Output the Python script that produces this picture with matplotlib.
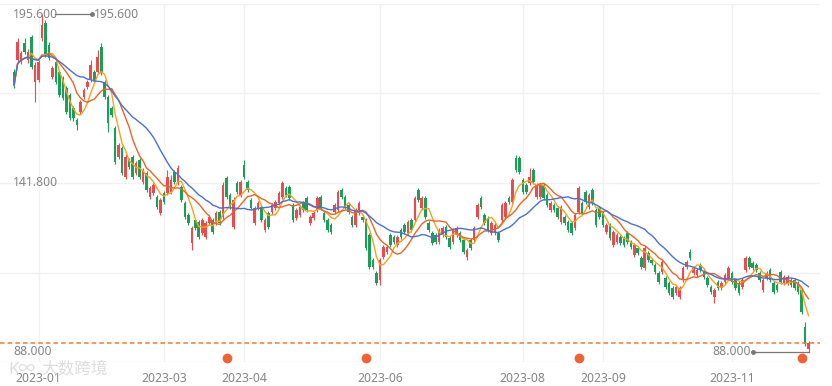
import matplotlib
matplotlib.use("Agg")
import matplotlib.pyplot as plt
import matplotlib.transforms as mtransforms
import numpy as np
import pandas as pd

plt.rcParams["font.family"] = ["Noto Sans", "Noto Sans CJK SC", "DejaVu Sans"]

# trading calendar (weekdays minus exchange holidays)
start_date = "2022-12-22"
end_date = "2023-12-01"
holidays = ["2023-01-02", "2023-01-23", "2023-01-24", "2023-01-25", "2023-01-26",
            "2023-01-27", "2023-04-05", "2023-05-01", "2023-05-02", "2023-05-03",
            "2023-06-22", "2023-06-23", "2023-09-29", "2023-10-02", "2023-10-03",
            "2023-10-04", "2023-10-05", "2023-10-06"]

opens = [177.1, 180.9, 180.3, 186.3, 180.9, 188.2, 173.9, 174.6, 187.9, 192.7,
         185.7, 175.5, 180.3, 177.1, 175.2, 172.0, 169.8, 165.7, 161.8, 164.4,
         169.2, 172.3, 174.6, 177.1, 177.1, 185.1, 173.9, 169.2, 165.7, 159.3,
         150.1, 152.9, 143.7, 149.1, 150.1, 145.0, 149.1, 142.1, 145.0, 137.4,
         138.6, 137.4, 132.3, 138.6, 138.6, 138.9, 145.3, 141.8, 140.5, 135.4,
         131.6, 122.7, 130.0, 129.4, 125.9, 124.6, 129.1, 130.0, 129.1, 132.6,
         131.0, 143.4, 138.0, 127.8, 141.8, 138.0, 147.5, 142.1, 136.4, 129.1,
         133.9, 134.2, 126.9, 132.3, 132.6, 133.9, 135.4, 137.4, 140.2, 140.5,
         134.8, 130.7, 131.6, 135.4, 137.0, 129.1, 130.7, 133.2, 137.4, 132.3,
         130.0, 128.4, 132.6, 133.2, 139.6, 137.4, 134.8, 131.0, 128.4, 132.3,
         131.0, 130.0, 125.3, 117.3, 113.2, 111.0, 118.3, 119.9, 125.3, 124.6,
         122.1, 126.9, 128.4, 125.9, 130.0, 130.0, 139.6, 133.9, 137.0, 129.1,
         125.9, 125.3, 123.0, 125.3, 127.8, 124.3, 123.0, 125.3, 125.9, 123.7,
         118.3, 123.7, 123.7, 131.0, 137.0, 131.6, 130.7, 125.9, 125.9, 125.9,
         130.0, 131.0, 137.0, 135.8, 149.8, 149.8, 142.8, 141.2, 141.8, 145.9,
         137.4, 137.4, 141.2, 138.0, 133.2, 134.8, 133.9, 129.4, 131.0, 129.4,
         129.1, 127.5, 132.6, 135.4, 138.9, 134.2, 139.6, 133.2, 133.9, 132.3,
         126.2, 128.4, 122.1, 123.0, 124.6, 124.3, 125.9, 123.0, 118.9, 121.1,
         118.0, 114.8, 119.5, 117.3, 115.7, 113.2, 113.5, 111.6, 110.0, 108.4,
         106.8, 105.6, 111.0, 115.1, 119.9, 113.2, 112.6, 115.7, 113.5, 111.6,
         108.7, 105.6, 110.3, 108.4, 110.3, 111.6, 113.2, 111.0, 110.0, 108.7,
         114.1, 118.0, 116.4, 115.7, 113.2, 107.8, 111.6, 114.1, 110.0, 109.4,
         113.5, 110.0, 110.0, 111.0, 111.0, 110.0, 107.8, 96.0, 88.9]

closes = [173.0, 186.6, 183.1, 183.5, 183.5, 178.7, 179.3, 180.3, 192.1, 182.5,
          181.6, 178.4, 173.9, 169.8, 168.8, 164.4, 162.5, 162.5, 160.3, 167.6,
          171.4, 173.9, 179.3, 174.6, 181.9, 176.8, 169.2, 160.9, 163.4, 148.5,
          153.9, 145.0, 150.1, 146.9, 143.7, 148.2, 143.7, 145.9, 139.6, 140.2,
          141.2, 134.2, 136.4, 135.8, 143.7, 142.8, 142.1, 146.6, 136.4, 131.0,
          129.1, 127.5, 127.5, 124.6, 130.0, 129.1, 131.0, 126.2, 132.3, 129.1,
          141.2, 137.4, 134.2, 136.4, 138.9, 142.1, 143.7, 139.6, 133.9, 133.9,
          135.4, 130.0, 130.0, 127.8, 134.8, 135.8, 138.6, 141.8, 138.0, 137.0,
          130.0, 133.2, 134.2, 133.2, 133.2, 131.0, 132.3, 137.0, 133.9, 130.0,
          126.9, 126.2, 134.8, 138.9, 137.4, 134.2, 132.6, 128.4, 133.2, 135.4,
          130.0, 121.1, 115.1, 115.1, 110.0, 117.3, 121.5, 121.5, 122.1, 123.0,
          124.6, 124.6, 126.2, 129.4, 126.9, 137.0, 136.4, 137.0, 131.0, 126.9,
          122.7, 123.0, 126.9, 127.5, 124.6, 121.5, 126.9, 127.5, 123.7, 119.9,
          120.5, 121.1, 127.5, 134.8, 134.2, 129.1, 126.9, 129.1, 128.4, 123.7,
          134.8, 135.4, 135.8, 142.8, 145.9, 145.3, 138.9, 138.9, 143.7, 142.1,
          141.2, 141.2, 137.0, 134.8, 135.4, 133.2, 131.0, 134.2, 129.1, 126.9,
          125.9, 131.6, 140.2, 132.3, 135.8, 138.0, 135.4, 128.4, 131.0, 128.4,
          128.4, 124.3, 126.2, 125.3, 122.7, 122.1, 123.0, 121.5, 122.1, 119.5,
          115.1, 121.1, 117.3, 116.4, 113.5, 110.3, 116.7, 108.7, 106.8, 105.6,
          108.7, 108.4, 114.8, 116.7, 118.0, 114.8, 114.1, 114.1, 111.9, 109.4,
          107.1, 107.8, 108.4, 110.0, 112.6, 114.8, 110.3, 108.4, 106.8, 111.0,
          118.0, 115.1, 114.8, 114.1, 111.0, 111.0, 113.2, 111.0, 107.1, 107.8,
          110.3, 111.9, 111.9, 109.4, 108.4, 107.1, 100.8, 90.5, 90.8]

highs = [178.0, 188.0, 184.0, 187.9, 184.5, 188.9, 180.3, 181.0, 195.6, 193.6,
         186.6, 179.0, 181.0, 177.7, 175.8, 172.6, 170.4, 166.3, 162.4, 168.2,
         172.0, 174.6, 181.0, 177.7, 184.1, 186.3, 174.6, 169.8, 166.3, 160.0,
         154.5, 153.5, 151.0, 149.8, 150.7, 148.8, 149.8, 146.6, 145.6, 140.9,
         141.8, 138.0, 137.0, 139.3, 145.9, 144.3, 145.9, 147.5, 141.2, 136.1,
         132.3, 128.1, 130.7, 130.0, 130.7, 129.7, 131.6, 130.7, 133.0, 133.2,
         142.1, 144.0, 138.6, 137.4, 142.4, 142.8, 149.1, 142.8, 137.0, 134.5,
         136.1, 134.8, 130.7, 132.9, 135.4, 136.4, 139.3, 142.4, 140.9, 141.2,
         135.4, 133.9, 134.8, 136.1, 137.7, 131.6, 133.0, 137.7, 138.0, 133.0,
         130.7, 129.1, 135.4, 139.6, 140.2, 138.0, 135.4, 131.6, 133.9, 136.1,
         131.6, 130.7, 125.9, 118.0, 113.8, 118.0, 122.1, 122.1, 125.9, 125.3,
         125.3, 127.5, 129.1, 130.0, 130.7, 137.7, 140.2, 137.7, 137.7, 129.7,
         126.5, 125.9, 127.5, 128.1, 128.4, 124.9, 127.5, 128.1, 126.5, 124.3,
         121.1, 124.3, 128.1, 135.4, 137.7, 132.3, 131.3, 129.7, 129.1, 126.5,
         135.4, 136.1, 137.7, 143.4, 150.7, 150.4, 143.4, 141.8, 146.6, 146.6,
         141.8, 141.8, 141.8, 138.6, 136.1, 135.4, 134.5, 134.8, 131.6, 130.0,
         129.7, 132.3, 140.9, 136.1, 139.6, 138.6, 140.2, 133.9, 134.5, 133.0,
         129.1, 129.1, 126.9, 125.9, 125.3, 124.9, 126.5, 123.7, 122.7, 121.8,
         118.6, 121.8, 120.2, 118.0, 116.4, 113.8, 117.3, 112.2, 110.6, 109.1,
         109.4, 109.1, 115.4, 117.3, 120.8, 115.4, 114.8, 116.4, 114.1, 112.2,
         109.4, 108.4, 110.9, 110.6, 113.2, 115.4, 113.8, 111.6, 110.6, 111.6,
         118.6, 118.6, 117.0, 116.4, 113.8, 111.6, 113.8, 114.8, 110.6, 110.0,
         114.1, 112.6, 112.6, 111.6, 111.6, 110.6, 108.4, 97.5, 91.5]

lows = [172.0, 180.3, 179.6, 182.8, 180.0, 178.0, 167.6, 174.0, 186.9, 181.9,
        180.9, 174.9, 173.3, 169.2, 168.2, 163.8, 161.8, 161.5, 158.7, 163.8,
        168.5, 171.7, 174.0, 173.9, 176.5, 176.2, 168.5, 158.0, 162.8, 147.9,
        149.5, 144.3, 143.1, 146.3, 143.1, 144.3, 143.1, 141.5, 139.0, 136.7,
        138.0, 133.5, 131.6, 135.1, 138.0, 138.3, 141.5, 141.2, 135.8, 130.4,
        128.4, 120.5, 126.9, 124.0, 125.3, 124.0, 128.4, 125.6, 128.4, 128.4,
        130.4, 136.7, 133.5, 127.2, 138.3, 137.4, 143.1, 139.0, 133.2, 128.4,
        133.2, 129.4, 126.2, 127.2, 132.0, 133.2, 134.8, 136.7, 137.4, 136.4,
        129.4, 130.0, 131.0, 132.6, 132.6, 128.4, 130.0, 132.6, 133.2, 129.4,
        126.2, 125.6, 132.0, 132.6, 136.7, 133.5, 132.0, 127.8, 127.8, 131.6,
        129.4, 120.5, 114.5, 114.5, 109.4, 109.4, 117.7, 119.3, 121.5, 122.4,
        121.5, 124.0, 125.6, 125.3, 126.2, 129.4, 135.8, 133.2, 130.4, 126.2,
        122.1, 122.4, 122.4, 124.6, 124.0, 120.8, 122.4, 124.6, 123.0, 119.3,
        117.3, 120.5, 123.0, 130.4, 133.5, 128.4, 126.2, 125.3, 125.3, 123.0,
        129.4, 130.4, 135.1, 135.1, 145.3, 144.6, 138.3, 138.3, 141.2, 141.5,
        136.7, 136.7, 136.4, 134.2, 132.6, 132.6, 130.4, 128.7, 128.4, 126.2,
        125.3, 126.9, 132.0, 131.6, 135.1, 133.5, 134.8, 127.8, 130.4, 127.8,
        125.6, 123.7, 121.5, 122.4, 122.1, 121.5, 122.4, 120.8, 118.3, 118.9,
        114.5, 114.1, 116.7, 115.7, 112.9, 109.7, 112.9, 108.1, 106.2, 105.0,
        106.2, 105.0, 110.3, 114.5, 117.3, 112.6, 112.0, 113.5, 111.3, 108.7,
        106.5, 103.6, 107.8, 107.8, 109.7, 111.0, 109.7, 107.8, 106.2, 108.1,
        113.5, 114.5, 114.1, 113.5, 110.3, 107.1, 111.0, 110.3, 106.5, 107.1,
        109.7, 109.4, 109.4, 108.7, 107.8, 106.5, 100.2, 89.8, 88.0]

shown_months = ["2023-01", "2023-03", "2023-04", "2023-06", "2023-08", "2023-09", "2023-11"]
event_dates = ["2023-03-27", "2023-05-26", "2023-08-23", "2023-11-29"]

ma_periods = [5, 10, 20]
ma_colors = ["#f7a21b", "#ec6524", "#4a6edb"]
up_color = "#ec4a4f"
down_color = "#1a9f58"
text_color = "#858585"
grid_color = "#f1f1f1"

dates = pd.bdate_range(start_date, end_date)
dates = dates[~dates.isin(pd.to_datetime(holidays))]
assert len(dates) == len(opens) == len(closes) == len(highs) == len(lows)

df = pd.DataFrame({"open": opens, "close": closes, "high": highs, "low": lows}, index=dates)
x = np.arange(len(df))

fig = plt.figure(figsize=(8.32, 3.86), dpi=100)
ax = fig.add_axes([0.0, 24 / 386, 820 / 832, 358 / 386])

pmax = df["high"].max()
pmin = df["low"].min()
pad = (pmax - pmin) * 0.03
ax.set_ylim(pmin - pad, pmax + pad)
ax.set_xlim(-4.05, 231.3)

# grid
for gy in np.linspace(pmin - pad, pmax + pad, 5):
    ax.axhline(gy, color=grid_color, lw=1.0, zorder=0)
month_str = df.index.strftime("%Y-%m")
tick_pos = [int(np.argmax(month_str == m)) for m in shown_months]
for tp in tick_pos:
    ax.axvline(tp, color=grid_color, lw=1.0, zorder=0)

# candles
up = df["close"] >= df["open"]
colors = np.where(up, up_color, down_color)
ax.vlines(x, df["low"], df["high"], colors=colors, lw=0.8, zorder=2)
body = (df["close"] - df["open"]).abs().clip(lower=0.35)
bottom = df[["open", "close"]].min(axis=1)
ax.bar(x, body, bottom=bottom, width=0.74, color=colors, linewidth=0, zorder=3)

# moving averages
for n, c in zip(ma_periods, ma_colors):
    ma = df["close"].rolling(n, min_periods=1).mean()
    ax.plot(x, ma, color=c, lw=1.0, zorder=4)

# last price line
ax.axhline(df["close"].iloc[-1], color="#f47a2e", lw=1.1, ls=(0, (3, 2)), zorder=5)

# y labels: max / mid / min
ytrans = mtransforms.blended_transform_factory(ax.transAxes, ax.transData)
for v in [pmax, (pmax + pmin) / 2, pmin]:
    ax.text(13 / 820, v, f"{v:.3f}", transform=ytrans, ha="left", va="center",
            fontsize=8.8, color=text_color, zorder=6)

# max / min markers
imax = int(np.argmax(df["high"].values))
imin = int(np.argmin(df["low"].values))
ax.plot([imax + 3.6, imax + 14.3], [pmax, pmax], color="#777777", lw=0.9, zorder=6)
ax.plot([imax + 14.3], [pmax], "o", color="#777777", ms=2.5, zorder=6)
ax.text(imax + 14.9, pmax, f"{pmax:.3f}", ha="left", va="center", fontsize=8.8,
        color=text_color, zorder=6)
ax.plot([imin - 15.9, imin], [pmin, pmin], color="#777777", lw=0.9, zorder=6)
ax.plot([imin - 15.9], [pmin], "o", color="#777777", ms=2.5, zorder=6)
ax.text(imin - 16.4, pmin, f"{pmin:.3f}", ha="right", va="center", fontsize=8.8,
        color=text_color, zorder=6)

# event markers
xtrans = mtransforms.blended_transform_factory(ax.transData, ax.transAxes)
ev_pos = [int(np.argmax(df.index == pd.Timestamp(d))) for d in event_dates]
ax.plot(ev_pos, [0.012] * len(ev_pos), "o", color="#f0622f", ms=6,
        transform=xtrans, clip_on=False, zorder=6)

# x labels
for tp, m in zip(tick_pos, shown_months):
    ax.text(tp, -0.047, m, transform=xtrans, ha="center", va="center",
            fontsize=8.8, color=text_color, clip_on=False)

# watermark (sits over the first date label, as in the source image)
fig.text(8 / 832, 1 - 370 / 386, "K\u221e", fontsize=12, color="#d2d2d2",
         ha="left", va="center", alpha=0.75)
fig.text(41 / 832, 1 - 370 / 386, "大数跨境", fontsize=12, color="#d2d2d2",
         ha="left", va="center", alpha=0.75)

for s in ax.spines.values():
    s.set_visible(False)
ax.set_xticks([])
ax.set_yticks([])

fig.savefig("out.png", dpi=100, facecolor="white")
